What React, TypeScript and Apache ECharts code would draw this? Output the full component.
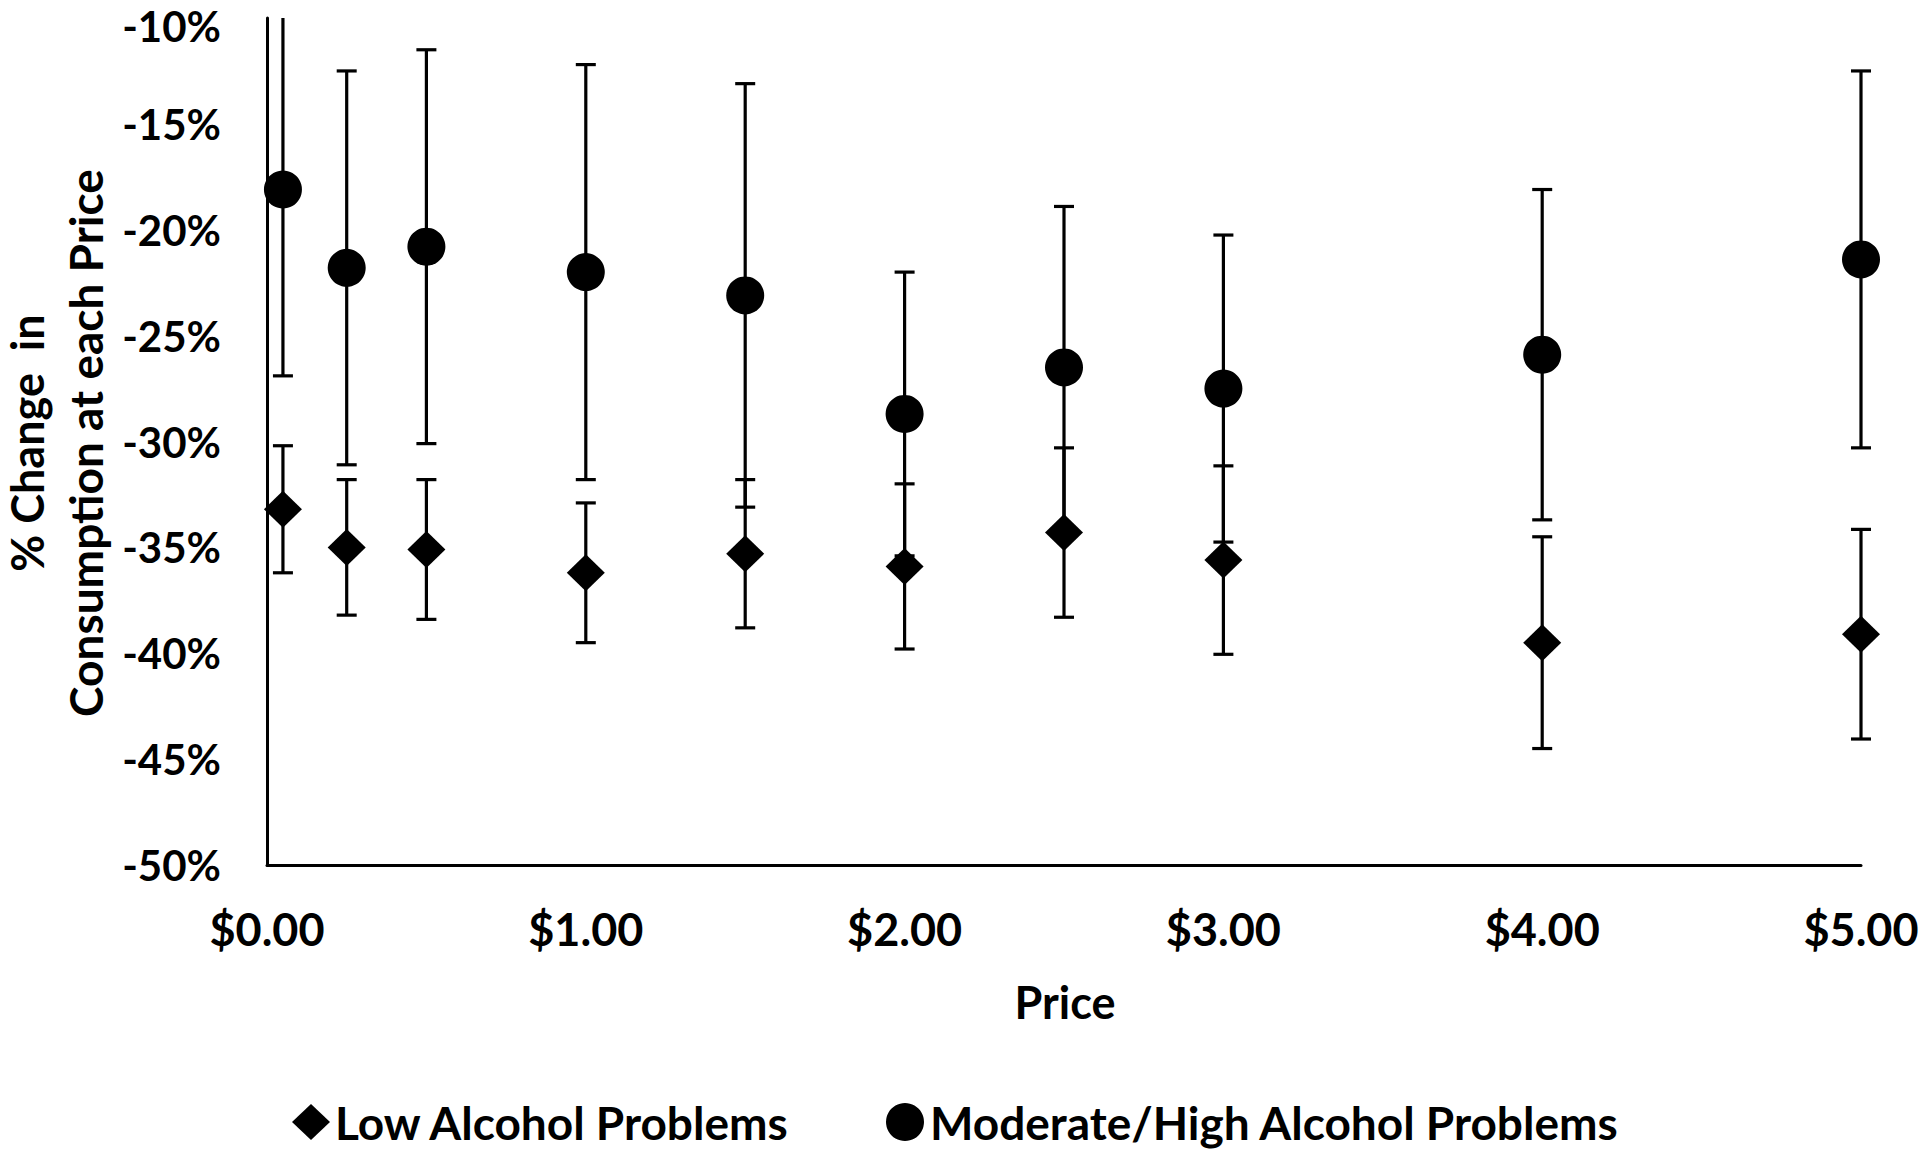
import React, { useEffect, useRef } from "react";
import * as echarts from "echarts";

// Prices (x values, $)
const prices = [0.05, 0.25, 0.5, 1, 1.5, 2, 2.5, 3, 4, 5];
// Low Alcohol Problems: mean % change and error half-width
const lowMean = [-33.2, -35.0, -35.1, -36.2, -35.3, -35.9, -34.3, -35.6, -39.5, -39.1];
const lowErr = [3.0, 3.2, 3.3, 3.3, 3.5, 3.9, 4.0, 4.45, 5.0, 4.95];
// Moderate/High Alcohol Problems
const modMean = [-18.1, -21.8, -20.8, -22.0, -23.1, -28.7, -26.5, -27.5, -25.9, -21.4];
const modErr = [8.8, 9.3, 9.3, 9.8, 10.0, 6.7, 7.6, 7.25, 7.8, 8.9];

const seriesNames = ["Low Alcohol Problems", "Moderate/High Alcohol Problems"];
const yMin = -50;
const yMax = -10;
const yStep = 5;
const xMin = 0;
const xMax = 5;
const xStep = 1;

const FONT = "Lato";

export default function App() {
  const ref = useRef<HTMLDivElement>(null);
  useEffect(() => {
    document.body.style.margin = "0";
    document.body.style.overflow = "hidden";
    const chart = echarts.init(ref.current!, null, { renderer: "svg" });

    const errData = (means: number[], errs: number[]) =>
      prices.map((p, i) => [p, means[i] - errs[i], means[i] + errs[i]]);

    const renderErr = (params: any, api: any) => {
      const x = api.value(0);
      const lo = api.value(1);
      const hi = api.value(2);
      const topClipped = hi > yMax;
      const pHi = api.coord([x, Math.min(hi, yMax)]);
      const pLo = api.coord([x, Math.max(lo, yMin)]);
      const capW = 10;
      const style = { stroke: "#000", lineWidth: 3.2 };
      const children: any[] = [
        { type: "line", shape: { x1: pHi[0], y1: pHi[1], x2: pLo[0], y2: pLo[1] }, style },
        { type: "line", shape: { x1: pLo[0] - capW, y1: pLo[1], x2: pLo[0] + capW, y2: pLo[1] }, style },
      ];
      if (!topClipped) {
        children.push({
          type: "line",
          shape: { x1: pHi[0] - capW, y1: pHi[1], x2: pHi[0] + capW, y2: pHi[1] },
          style,
        });
      }
      return { type: "group", children };
    };

    const labelFont = { fontFamily: FONT, fontWeight: "bold" as const, color: "#000" };

    chart.setOption({
      animation: false,
      backgroundColor: "#fff",
      grid: {
        left: 267,
        right: 59,
        top: 18,
        bottom: 284,
        containLabel: false,
        outerBoundsMode: "none",
      },
      xAxis: {
        type: "value",
        min: xMin,
        max: xMax,
        interval: xStep,
        axisLine: { show: true, lineStyle: { color: "#000", width: 3 } },
        axisTick: { show: false },
        splitLine: { show: false },
        axisLabel: {
          ...labelFont,
          fontSize: 45,
          lineHeight: 40,
          margin: 44,
          formatter: (v: number) => "$" + v.toFixed(2),
        },
      },
      yAxis: {
        type: "value",
        min: yMin,
        max: yMax,
        interval: yStep,
        axisLine: { show: true, lineStyle: { color: "#000", width: 3 } },
        axisTick: { show: false },
        splitLine: { show: false },
        axisLabel: {
          ...labelFont,
          fontSize: 42,
          lineHeight: 32,
          margin: 46,
          formatter: (v: number) => (v === yMax ? "{t|" + v + "%}" : v + "%"),
          rich: {
            t: { ...labelFont, fontSize: 42, lineHeight: 32, padding: [16, 0, 0, 0] },
          },
        },
      },
      legend: [
        {
          data: [{ name: seriesNames[0], icon: "diamond" }],
          left: 292,
          top: 1099,
          padding: 0,
          itemWidth: 38,
          itemHeight: 36,
          textStyle: { ...labelFont, fontSize: 46, lineHeight: 44 },
          selectedMode: false,
        },
        {
          data: [{ name: seriesNames[1], icon: "circle" }],
          left: 886,
          top: 1099,
          padding: 0,
          itemWidth: 38,
          itemHeight: 38,
          textStyle: { ...labelFont, fontSize: 46, lineHeight: 44, padding: [0, 0, 0, 1] },
          selectedMode: false,
        },
      ],
      graphic: [
        {
          type: "text",
          x: 27,
          y: 443,
          rotation: Math.PI / 2,
          style: {
            text: "% Change  in",
            font: `bold 45px ${FONT}`,
            lineHeight: 40,
            fill: "#000",
            align: "center",
            verticalAlign: "middle",
          },
        },
        {
          type: "text",
          x: 85,
          y: 443,
          rotation: Math.PI / 2,
          style: {
            text: "Consumption at each Price",
            font: `bold 46px ${FONT}`,
            lineHeight: 40,
            fill: "#000",
            align: "center",
            verticalAlign: "middle",
          },
        },
        {
          type: "text",
          x: 1065,
          y: 1002,
          style: {
            text: "Price",
            font: `bold 45px ${FONT}`,
            fill: "#000",
            align: "center",
            verticalAlign: "middle",
          },
        },
      ],
      series: [
        {
          type: "custom",
          name: seriesNames[0] + " error",
          renderItem: renderErr,
          data: errData(lowMean, lowErr),
          encode: { x: 0, y: [1, 2] },
          z: 1,
          silent: true,
        },
        {
          type: "custom",
          name: seriesNames[1] + " error",
          renderItem: renderErr,
          data: errData(modMean, modErr),
          encode: { x: 0, y: [1, 2] },
          z: 1,
          silent: true,
        },
        {
          type: "scatter",
          name: seriesNames[0],
          symbol: "diamond",
          symbolSize: [38, 37],
          itemStyle: { color: "#000", opacity: 1 },
          data: prices.map((p, i) => [p, lowMean[i]]),
          z: 3,
        },
        {
          type: "scatter",
          name: seriesNames[1],
          symbol: "circle",
          symbolSize: 38,
          itemStyle: { color: "#000", opacity: 1 },
          data: prices.map((p, i) => [p, modMean[i]]),
          z: 3,
        },
      ],
    });
    return () => chart.dispose();
  }, []);
  return <div ref={ref} style={{ width: 1920, height: 1149 }} />;
}
